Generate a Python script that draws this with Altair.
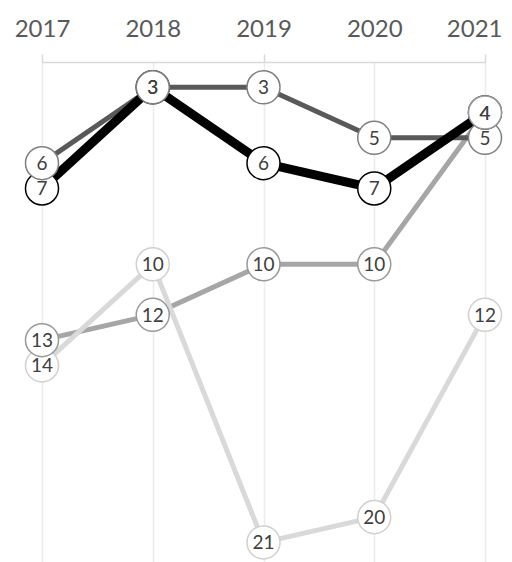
import altair as alt
import pandas as pd

years = [2017, 2018, 2019, 2020, 2021]
series_names = ["A", "B", "C", "D"]
rank_a = [7, 3, 6, 7, 4]
rank_b = [6, 3, 3, 5, 5]
rank_c = [13, 12, 10, 10, 4]
rank_d = [14, 10, 21, 20, 12]
line_colors = ["#000000", "#595959", "#a6a6a6", "#d9d9d9"]
ring_colors = ["#000000", "#7f7f7f", "#999999", "#d0d0d0"]
line_widths = [9, 5, 5, 5]

rows = []
for si, (name, ranks) in enumerate(zip(series_names, [rank_a, rank_b, rank_c, rank_d])):
    for y, r in zip(years, ranks):
        rows.append({"series": name, "year": y, "rank": r, "idx": si,
                     "z": (30 - r) * 10 + si})
df = pd.DataFrame(rows)

x_enc = alt.X("year:Q",
              scale=alt.Scale(domain=[2017, 2021], nice=False, zero=False),
              axis=alt.Axis(orient="top", format="d", values=years, title=None,
                            labelFontSize=24, labelColor="#595959", labelFont="Lato",
                            labelPadding=13, labelFlush=False,
                            labelAlign={"condition": {"test": "datum.value == 2021", "value": "right"},
                                        "value": "center"},
                            labelOffset={"condition": {"test": "datum.value == 2021", "value": 17},
                                         "value": 0},
                            tickSize=8, tickWidth=1.5,
                            tickColor={"condition": {"test": "datum.value % 2 == 1", "value": "#d9d9d9"},
                                       "value": "transparent"},
                            domainColor="#d9d9d9", domainWidth=1.5,
                            grid=True, gridColor="#ececec", gridWidth=1.5))
y_enc = alt.Y("rank:Q", scale=alt.Scale(domain=[2, 22.17], reverse=True, nice=False, zero=False),
              axis=None)

base = alt.Chart(df)

line_order = [2, 3, 1, 0]
layers = []
for si in line_order:
    layers.append(
        base.transform_filter(alt.datum.idx == si)
        .mark_line(color=line_colors[si], strokeWidth=line_widths[si], strokeJoin="miter")
        .encode(x=x_enc, y=y_enc)
    )

points = base.mark_point(filled=True, fill="white", shape="circle", size=1090,
                         strokeWidth=1.5, opacity=1).encode(
    x=x_enc, y=y_enc,
    stroke=alt.Stroke("series:N", scale=alt.Scale(domain=series_names, range=ring_colors), legend=None),
    order=alt.Order("z:Q"),
)
texts = base.mark_text(fontSize=19, font="Lato", color="#404040", baseline="middle", dy=1).encode(
    x=x_enc, y=y_enc, text="rank:Q", order=alt.Order("z:Q"))

chart = alt.layer(*layers, points, texts).properties(
    width=443, height=510,
    autosize=alt.AutoSizeParams(type="none"),
    padding={"left": 34, "top": 54, "right": 19, "bottom": 0},
).configure_view(stroke="transparent")

chart.save("out.html", embed_options={"renderer": "svg", "actions": False})
